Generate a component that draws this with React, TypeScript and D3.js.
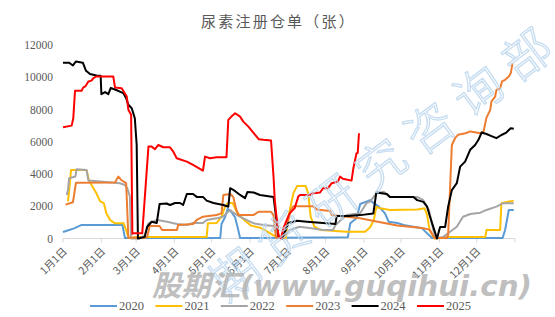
import React from "react";
import * as d3 from "d3";

const title = "尿素注册仓单（张）";
const yTicks = [0, 2000, 4000, 6000, 8000, 10000, 12000];
const monthDays = [0, 31, 59, 90, 120, 151, 181, 212, 243, 273, 304, 334, 365];
const monthLabels = ["1月1日", "2月1日", "3月1日", "4月1日", "5月1日", "6月1日", "7月1日", "8月1日", "9月1日", "10月1日", "11月1日", "12月1日"];
const seriesNames = ["2020", "2021", "2022", "2023", "2024", "2025"];
const seriesColors = ["#5B9BD5", "#FFC000", "#A5A5A5", "#ED7D31", "#000000", "#FF0000"];

const days2020 = [0, 5, 9, 15, 48, 50, 127, 128, 131, 133, 136, 139, 141, 143, 230, 232, 237, 240, 245, 248, 251, 255, 260, 263, 270, 275, 283, 290, 294, 298, 355, 357, 360, 364];
const vals2020 = [400, 530, 630, 840, 840, 30, 30, 900, 1350, 1850, 1650, 1300, 700, 30, 80, 940, 1250, 2140, 2290, 2380, 2190, 1980, 1560, 1040, 960, 840, 730, 630, 320, 30, 30, 530, 1770, 1770];

const days2021 = [4, 5, 6.5, 19, 21, 24, 27, 30, 33, 35, 38, 42, 49, 51, 53, 60, 116, 117, 124, 128, 131, 133, 137, 140, 143, 147, 152, 160, 165, 170, 176, 180, 182, 186, 189, 196, 198, 200, 203, 208, 229, 244, 248, 251, 253, 256, 264, 286, 292, 294, 296, 300, 310, 341, 342, 353, 354, 364];
const vals2021 = [2300, 3000, 4250, 4250, 3600, 3200, 2800, 2300, 2190, 1560, 1150, 940, 940, 500, 50, 100, 100, 940, 960, 1350, 2000, 2200, 2200, 1700, 1400, 1100, 800, 650, 420, 200, 30, 30, 1350, 2800, 3250, 3250, 2800, 1350, 730, 530, 420, 420, 700, 1150, 1950, 1870, 1770, 1800, 1870, 1460, 530, 0, 100, 100, 530, 530, 2190, 2350];

const days2022 = [3, 4, 5, 10, 11, 19, 20.5, 30, 46, 50, 52, 54, 55, 62, 66, 69, 76, 84, 92, 100, 105, 113, 116, 124, 129, 135, 137.5, 141.6, 145.6, 154, 162, 170, 172, 175, 178, 183, 191, 202, 210, 218, 220, 229, 240, 245, 248, 253, 259, 264, 286, 291, 295.5, 299, 301, 307, 312.6, 318, 323, 329, 337, 342, 350, 355.6, 364];
const vals2022 = [2700, 3000, 3740, 3840, 4300, 4250, 3600, 3530, 3430, 3320, 3100, 2600, 0, 0, 200, 940, 1150, 1040, 900, 840, 960, 960, 1150, 1250, 1350, 1770, 1600, 1400, 1250, 940, 840, 780, 400, 50, 100, 530, 730, 620, 530, 530, 840, 1460, 1560, 2190, 2290, 2800, 2900, 2580, 2580, 2380, 1770, 530, 0, 100, 420, 730, 1350, 1520, 1600, 1770, 1980, 2190, 2190];

const days2023 = [2, 8, 10.5, 42, 44.7, 47, 51, 52.8, 60, 66, 68, 70, 78, 80, 92, 93, 105, 108, 113, 124, 128, 129.5, 135, 137.5, 140, 141.6, 154, 158, 168, 170, 172, 178, 182, 184, 186, 202, 205, 215.7, 217, 229, 240, 250, 270, 290, 296, 300, 310, 311, 314, 316.6, 319, 325, 329, 337, 339.6, 342, 345, 346, 349, 350, 353, 354.5, 357, 360, 361.6, 363];
const vals2023 = [2100, 2250, 3450, 3470, 3840, 3630, 3430, 50, 50, 50, 100, 780, 780, 530, 530, 840, 900, 1150, 1350, 1460, 1560, 2700, 2760, 2580, 1770, 1460, 1460, 1660, 1660, 1450, 50, 50, 1150, 1770, 2000, 2000, 1800, 1700, 1460, 1350, 1250, 1100, 800, 650, 550, 30, 30, 200, 5800, 6220, 6430, 6530, 6640, 6530, 6640, 7500, 7980, 8500, 8800, 9220, 9320, 9740, 9840, 10050, 10260, 10880];

const days2024 = [0, 5, 8, 10.5, 16, 18.6, 21.8, 27, 30.4, 31, 34, 36.6, 38.5, 42, 48.7, 51, 52.8, 55.5, 58, 59.5, 60.5, 66, 68, 71.6, 75.7, 78, 83.7, 86.4, 90.5, 94.5, 97, 100, 105, 108, 113, 116, 121.5, 129.5, 133.5, 135, 137.5, 143, 147, 149, 154, 159, 170, 171, 174, 177, 182, 189, 197, 210, 220, 221, 230.5, 240, 250.6, 253, 261.5, 264, 283, 286, 291, 294, 296.4, 299, 302, 304.5, 308.6, 311, 314, 318, 320.7, 324.7, 328.8, 332.8, 335.5, 338, 342, 346, 350, 354, 358, 361.5, 364];
const vals2024 = [10900, 10900, 10730, 10980, 10900, 10400, 10200, 10110, 10100, 8950, 9080, 8950, 9330, 9240, 9020, 8700, 8290, 8080, 7460, 5800, 0, 100, 730, 1040, 960, 2140, 2170, 2080, 2200, 2200, 2080, 2760, 2760, 2580, 2580, 2350, 2200, 2080, 1970, 3120, 3020, 2700, 2500, 2890, 2850, 2700, 2580, 1970, 150, 0, 960, 1100, 1040, 960, 900, 1400, 1400, 1450, 1550, 2850, 2760, 2580, 2580, 2380, 2270, 1970, 1350, 720, 0, 720, 720, 1970, 3000, 3430, 4460, 4770, 5500, 5800, 6120, 6570, 6480, 6350, 6220, 6420, 6570, 6840, 6800];

const days2025 = [0, 7, 8.3, 9.7, 15, 16.4, 18, 20.5, 23, 24.5, 27, 40.6, 42, 47.4, 49, 51.5, 52.8, 55, 56, 57, 64, 69, 71.6, 74.3, 77, 81, 86.4, 89, 91.8, 100, 105, 113, 114.7, 118.7, 124, 132, 133.5, 136, 139, 143, 145.6, 149.7, 154, 158, 161.8, 168, 170, 171, 174, 176, 178, 180.7, 183, 187, 190, 191.4, 199.5, 202, 207.6, 210, 214, 217, 222, 223.7, 226, 233, 234.5, 237, 238, 239];
const vals2025 = [6900, 7000, 7460, 9160, 9160, 9370, 9430, 9740, 9790, 9950, 10050, 10050, 9370, 9320, 9120, 8800, 7980, 7670, 300, 320, 320, 5700, 5700, 5540, 5800, 5660, 5660, 5390, 4980, 4770, 4560, 4210, 5080, 4980, 5040, 5040, 7360, 7560, 7770, 7560, 7250, 6940, 6530, 6160, 6120, 6080, 3840, 2390, 150, 0, 630, 1150, 1560, 1870, 2600, 2700, 2700, 2800, 2850, 3120, 3120, 3430, 3530, 3840, 3700, 3590, 4360, 5290, 5300, 6530];

const seriesDays = [days2020, days2021, days2022, days2023, days2024, days2025];
const seriesVals = [vals2020, vals2021, vals2022, vals2023, vals2024, vals2025];

const W = 555;
const H = 317;
const serif = "'Liberation Serif', 'Noto Serif CJK SC', 'Noto Sans CJK SC', serif";
const cjk = "'Noto Sans CJK SC', sans-serif";

export default function App() {
  const x = d3.scaleLinear().domain([0, 365]).range([63, 515]);
  const y = d3.scaleLinear().domain([0, 12000]).range([238.5, 45]);
  const line = d3
    .line<[number, number]>()
    .x((d) => x(d[0]))
    .y((d) => y(d[1]));
  const axisY = y(0);

  return (
    <svg width={W} height={H} style={{ position: "absolute", left: 0, top: 0, background: "#fff" }}>
      <rect width={W} height={H} fill="#fff" />
      <text x={W / 2 + 1} y={27} textAnchor="middle" fontFamily={cjk} fontSize={15} fill="#595959" letterSpacing={2.2}>
        {title}
      </text>
      {yTicks.map((t) => (
        <text key={t} x={53} y={y(t)} dy="0.35em" textAnchor="end" fontFamily={serif} fontSize={11.5} fill="#595959">
          {t}
        </text>
      ))}
      <line x1={x(0)} x2={x(365)} y1={axisY} y2={axisY} stroke="#d9d9d9" strokeWidth={1} />
      {monthDays.map((d) => (
        <line key={d} x1={x(d)} x2={x(d)} y1={axisY} y2={axisY + 4} stroke="#d9d9d9" strokeWidth={1} />
      ))}
      {monthLabels.map((lab, i) => (
        <text
          key={lab}
          transform={`translate(${x(monthDays[i]) + 2},${axisY + 11}) rotate(-45)`}
          textAnchor="end"
          dy="0.35em"
          fontFamily={cjk}
          fontSize={10.5}
          fill="#595959"
        >
          {lab}
        </text>
      ))}
      {seriesNames.map((name, i) => {
        const pts = d3.zip(seriesDays[i], seriesVals[i]) as [number, number][];
        return (
          <path key={name} d={line(pts) || ""} fill="none" stroke={seriesColors[i]} strokeWidth={2} strokeLinejoin="round" />
        );
      })}
      <text
        transform="translate(226,303) rotate(-37)"
        fontFamily={cjk}
        fontWeight={300}
        fontSize={48}
        letterSpacing={13}
        fill="none"
        stroke="#BDD7EE"
        strokeWidth={1.3}
        opacity={0.85}
      >
        期货研究咨询部
      </text>
      <text
        x={152}
        y={296}
        fontFamily="'DejaVu Sans', 'Noto Sans CJK SC', sans-serif"
        fontWeight="bold"
        fontStyle="italic"
        fontSize={29}
        fill="#b4b4b4"
        opacity={0.85}
        textLength={380}
        lengthAdjust="spacingAndGlyphs"
      >
        股期汇(www.guqihui.cn)
      </text>
      {seriesNames.map((name, i) => {
        const lx = 90 + i * 65.4;
        return (
          <g key={name}>
            <line x1={lx} x2={lx + 27} y1={306} y2={306} stroke={seriesColors[i]} strokeWidth={2} />
            <text x={lx + 29} y={306} dy="0.35em" fontFamily={serif} fontSize={12.5} fill="#595959">
              {name}
            </text>
          </g>
        );
      })}
    </svg>
  );
}
